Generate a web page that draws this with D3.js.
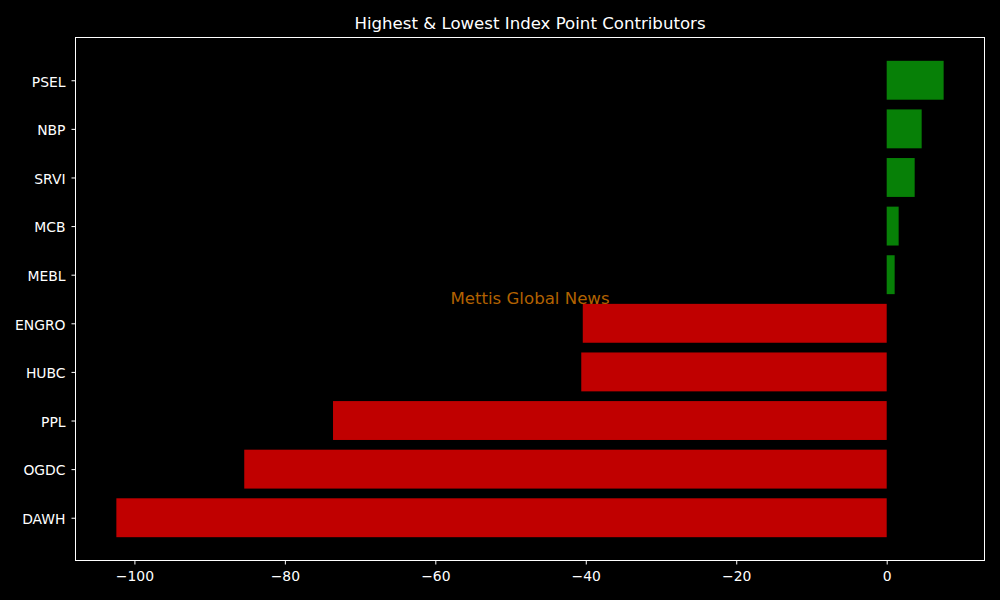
<!DOCTYPE html>
<html><head><meta charset="utf-8">
<script src="https://cdn.jsdelivr.net/npm/d3@7"></script>
<style>body{margin:0;background:#000}svg{display:block}</style>
</head><body>
<script>
const categories = ["DAWH","OGDC","PPL","HUBC","ENGRO","MEBL","MCB","SRVI","NBP","PSEL"];
const values = [-102.4,-85.4,-73.6,-40.6,-40.4,1.06,1.59,3.72,4.65,7.57];
const xTicks = [-100,-80,-60,-40,-20,0];
const title = "Highest & Lowest Index Point Contributors";
const watermark = "Mettis Global News";

const W=1000,H=600, L=75,R=985,T=37,B=561;
const svg=d3.select("body").append("svg").attr("width",W).attr("height",H).style("background","#000");
svg.append("rect").attr("width",W).attr("height",H).attr("fill","#000");
const font="DejaVu Sans, sans-serif";

const mn=d3.min(values.concat([0])), mx=d3.max(values.concat([0]));
const pad=(mx-mn)*0.05;
const x=d3.scaleLinear().domain([mn-pad,mx+pad]).range([L,R]);
const n=categories.length;
const ypad=(n-1+0.8)*0.05;
const y=d3.scaleLinear().domain([-0.4-ypad,n-1+0.4+ypad]).range([B,T]);

svg.selectAll("rect.bar").data(values).enter().append("rect").attr("class","bar")
 .attr("x",d=>x(Math.min(0,d))).attr("width",d=>Math.abs(x(d)-x(0)))
 .attr("y",(d,i)=>y(i+0.4)).attr("height",(d,i)=>y(i-0.4)-y(i+0.4))
 .attr("fill",d=>d>=0?"#078007":"#c00000");

svg.append("text").attr("x",(L+R)/2).attr("y",(T+B)/2+5).attr("text-anchor","middle")
 .attr("font-family",font).attr("font-size",16.6).attr("fill","rgb(178,98,0)").text(watermark);

svg.append("rect").attr("x",L+0.5).attr("y",T+0.5).attr("width",R-L-1).attr("height",B-T-1)
 .attr("fill","none").attr("stroke","#fff").attr("stroke-width",1);

const xa=svg.append("g").attr("transform",`translate(0,${B})`)
 .call(d3.axisBottom(x).tickValues(xTicks).tickSize(3.5).tickPadding(6.5).tickFormat(d=>d<0?"\u2212"+Math.abs(d):d));
const ya=svg.append("g").attr("transform",`translate(${L},0)`)
 .call(d3.axisLeft(y).tickValues(d3.range(n)).tickSize(3.5).tickPadding(6).tickFormat(i=>categories[i]));
[xa,ya].forEach(a=>{a.select(".domain").remove();
 a.selectAll("line").attr("stroke","#fff");
 a.selectAll("text").attr("fill","#fff").attr("font-family",font).attr("font-size",13.9);});
ya.selectAll("text").attr("dy","0.42em");

svg.append("text").attr("x",(L+R)/2).attr("y",29).attr("text-anchor","middle")
 .attr("font-family",font).attr("font-size",16.6).attr("fill","#fff").text(title);
</script>
</body></html>
